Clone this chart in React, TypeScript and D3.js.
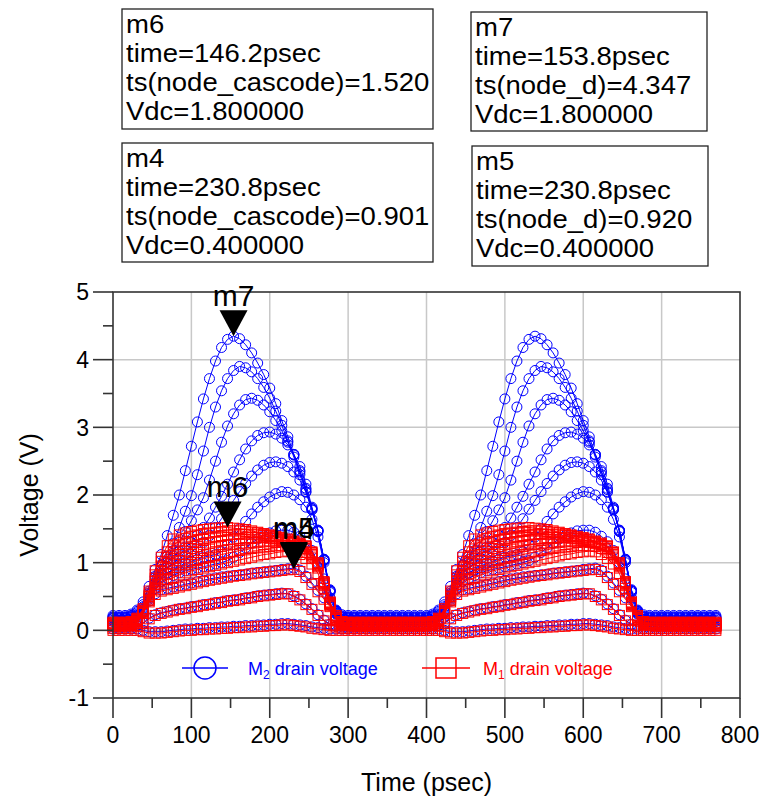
import React from "react";
import * as d3 from "d3";

// ---- sampling grid (ps) ----
const SAMPLE_STEP = 1000 / 130; // 7.692 ps
const SAMPLE_COUNT = 101; // 0 .. 769 ps
const PERIOD_SAMPLES = 50;

const vdcSweep = [1.8, 1.6, 1.4, 1.2, 1.0, 0.8, 0.6, 0.4, 0.2, 0.0];

// ---- M2 drain voltage ts(node_d), one period, per Vdc ----
const nodeD_18 = [
  0.22, 0.22, 0.22, 0.24, 0.3, 0.42, 0.65, 0.9, 1.12, 1.4,
  1.7, 2.0, 2.36, 2.72, 3.08, 3.42, 3.72, 3.98, 4.18, 4.3,
  4.347, 4.31, 4.22, 4.1, 3.95, 3.78, 3.58, 3.35, 3.1, 2.86,
  2.6, 2.34, 2.08, 1.8, 1.48, 1.05, 0.6, 0.3, 0.23, 0.22,
  0.22, 0.22, 0.22, 0.22, 0.22, 0.22, 0.22, 0.22, 0.22, 0.22,
];
const nodeD_16 = [
  0.2, 0.2, 0.2, 0.22, 0.28, 0.38, 0.58, 0.8, 0.96, 1.05,
  1.28, 1.52, 1.76, 1.99, 2.3, 2.65, 3.0, 3.3, 3.54, 3.72,
  3.84, 3.9, 3.88, 3.82, 3.72, 3.59, 3.43, 3.24, 3.03, 2.8,
  2.56, 2.3, 2.05, 1.78, 1.46, 1.03, 0.58, 0.29, 0.21, 0.2,
  0.2, 0.2, 0.2, 0.2, 0.2, 0.2, 0.2, 0.2, 0.2, 0.2,
];
const nodeD_14 = [
  0.19, 0.19, 0.19, 0.21, 0.26, 0.35, 0.55, 0.78, 0.96, 1.09,
  1.18, 1.3, 1.46, 1.62, 1.78, 1.96, 2.22, 2.5, 2.78, 3.02,
  3.2, 3.33, 3.41, 3.43, 3.4, 3.33, 3.23, 3.1, 2.95, 2.78,
  2.59, 2.36, 2.1, 1.8, 1.47, 1.04, 0.58, 0.28, 0.2, 0.19,
  0.19, 0.19, 0.19, 0.19, 0.19, 0.19, 0.19, 0.19, 0.19, 0.19,
];
const nodeD_12 = [
  0.18, 0.18, 0.18, 0.2, 0.24, 0.33, 0.53, 0.75, 0.9, 1.01,
  1.1, 1.17, 1.23, 1.3, 1.4, 1.52, 1.66, 1.82, 1.98, 2.16,
  2.34, 2.52, 2.68, 2.8, 2.88, 2.92, 2.93, 2.9, 2.84, 2.74,
  2.6, 2.42, 2.16, 1.82, 1.48, 1.05, 0.59, 0.28, 0.19, 0.18,
  0.18, 0.18, 0.18, 0.18, 0.18, 0.18, 0.18, 0.18, 0.18, 0.18,
];
const nodeD_10 = [
  0.17, 0.17, 0.17, 0.19, 0.22, 0.31, 0.5, 0.7, 0.84, 0.93,
  1.0, 1.06, 1.11, 1.16, 1.22, 1.3, 1.4, 1.52, 1.65, 1.79,
  1.92, 2.05, 2.17, 2.28, 2.37, 2.44, 2.48, 2.49, 2.47, 2.42,
  2.34, 2.22, 2.04, 1.78, 1.46, 1.03, 0.58, 0.27, 0.18, 0.17,
  0.17, 0.17, 0.17, 0.17, 0.17, 0.17, 0.17, 0.17, 0.17, 0.17,
];
const nodeD_08 = [
  0.15, 0.15, 0.15, 0.17, 0.2, 0.29, 0.48, 0.66, 0.78, 0.85,
  0.9, 0.95, 0.99, 1.02, 1.05, 1.08, 1.1, 1.12, 1.16, 1.26,
  1.38, 1.5, 1.61, 1.72, 1.82, 1.9, 1.97, 2.02, 2.05, 2.04,
  2.0, 1.93, 1.82, 1.64, 1.38, 1.0, 0.56, 0.26, 0.16, 0.15,
  0.15, 0.15, 0.15, 0.15, 0.15, 0.15, 0.15, 0.15, 0.15, 0.15,
];
const nodeD_06 = [
  0.13, 0.13, 0.13, 0.14, 0.17, 0.27, 0.46, 0.62, 0.72, 0.77,
  0.81, 0.85, 0.88, 0.9, 0.92, 0.94, 0.96, 0.98, 1.0, 1.03,
  1.08, 1.15, 1.22, 1.29, 1.35, 1.4, 1.44, 1.47, 1.48, 1.48,
  1.45, 1.39, 1.31, 1.18, 1.0, 0.76, 0.48, 0.25, 0.15, 0.13,
  0.13, 0.13, 0.13, 0.13, 0.13, 0.13, 0.13, 0.13, 0.13, 0.13,
];
const nodeD_04 = [
  0.09, 0.09, 0.09, 0.1, 0.12, 0.26, 0.43, 0.54, 0.6, 0.62,
  0.64, 0.66, 0.68, 0.7, 0.72, 0.74, 0.76, 0.775, 0.79, 0.8,
  0.81, 0.82, 0.83, 0.845, 0.855, 0.865, 0.875, 0.885, 0.9, 0.91,
  0.92, 0.89, 0.8, 0.7, 0.59, 0.48, 0.37, 0.24, 0.14, 0.1,
  0.09, 0.09, 0.09, 0.09, 0.09, 0.09, 0.09, 0.09, 0.09, 0.09,
];
const nodeD_02 = [
  0.05, 0.05, 0.05, 0.05, 0.07, 0.11, 0.18, 0.23, 0.26, 0.28,
  0.3, 0.32, 0.33, 0.35, 0.36, 0.38, 0.39, 0.41, 0.42, 0.44,
  0.45, 0.46, 0.48, 0.49, 0.51, 0.52, 0.53, 0.54, 0.55, 0.54,
  0.51, 0.46, 0.39, 0.32, 0.23, 0.15, 0.09, 0.06, 0.05, 0.05,
  0.05, 0.05, 0.05, 0.05, 0.05, 0.05, 0.05, 0.05, 0.05, 0.05,
];
const nodeD_00 = [
  0.02, 0.02, 0.02, 0.02, 0.02, 0.0, -0.02, -0.02, -0.02, -0.01,
  0.0, 0.01, 0.02, 0.02, 0.03, 0.03, 0.04, 0.04, 0.05, 0.05,
  0.06, 0.06, 0.07, 0.07, 0.08, 0.08, 0.09, 0.09, 0.1, 0.1,
  0.09, 0.08, 0.07, 0.05, 0.04, 0.03, 0.02, 0.02, 0.02, 0.02,
  0.02, 0.02, 0.02, 0.02, 0.02, 0.02, 0.02, 0.02, 0.02, 0.02,
];

// ---- M1 drain voltage ts(node_cascode), one period, per Vdc ----
const nodeC_18 = [
  0.12, 0.12, 0.12, 0.13, 0.18, 0.32, 0.58, 0.88, 1.08, 1.25,
  1.35, 1.41, 1.44, 1.46, 1.48, 1.49, 1.5, 1.51, 1.515, 1.52,
  1.51, 1.5, 1.49, 1.47, 1.45, 1.43, 1.41, 1.39, 1.37, 1.35,
  1.32, 1.29, 1.25, 1.16, 1.0, 0.72, 0.42, 0.2, 0.13, 0.12,
  0.12, 0.12, 0.12, 0.12, 0.12, 0.12, 0.12, 0.12, 0.12, 0.12,
];
const nodeC_16 = [
  0.11, 0.11, 0.11, 0.12, 0.17, 0.3, 0.55, 0.82, 1.02, 1.16,
  1.26, 1.32, 1.36, 1.39, 1.41, 1.43, 1.44, 1.45, 1.46, 1.47,
  1.47, 1.47, 1.46, 1.45, 1.44, 1.42, 1.4, 1.38, 1.36, 1.34,
  1.31, 1.28, 1.24, 1.15, 0.99, 0.71, 0.41, 0.19, 0.12, 0.11,
  0.11, 0.11, 0.11, 0.11, 0.11, 0.11, 0.11, 0.11, 0.11, 0.11,
];
const nodeC_14 = [
  0.1, 0.1, 0.1, 0.11, 0.16, 0.29, 0.52, 0.77, 0.95, 1.08,
  1.16, 1.23, 1.28, 1.31, 1.34, 1.36, 1.38, 1.39, 1.4, 1.41,
  1.42, 1.42, 1.42, 1.42, 1.41, 1.4, 1.38, 1.36, 1.34, 1.32,
  1.3, 1.27, 1.23, 1.14, 0.97, 0.7, 0.4, 0.18, 0.11, 0.1,
  0.1, 0.1, 0.1, 0.1, 0.1, 0.1, 0.1, 0.1, 0.1, 0.1,
];
const nodeC_12 = [
  0.09, 0.09, 0.09, 0.1, 0.15, 0.28, 0.5, 0.72, 0.88, 0.99,
  1.06, 1.12, 1.17, 1.21, 1.24, 1.27, 1.29, 1.31, 1.33, 1.34,
  1.35, 1.36, 1.37, 1.37, 1.37, 1.37, 1.36, 1.35, 1.33, 1.31,
  1.29, 1.26, 1.21, 1.12, 0.96, 0.69, 0.4, 0.17, 0.1, 0.09,
  0.09, 0.09, 0.09, 0.09, 0.09, 0.09, 0.09, 0.09, 0.09, 0.09,
];
const nodeC_10 = [
  0.08, 0.08, 0.08, 0.09, 0.14, 0.27, 0.48, 0.68, 0.82, 0.91,
  0.98, 1.03, 1.08, 1.12, 1.15, 1.18, 1.2, 1.22, 1.24, 1.26,
  1.27, 1.28, 1.29, 1.3, 1.31, 1.32, 1.32, 1.32, 1.31, 1.3,
  1.28, 1.25, 1.19, 1.1, 0.94, 0.68, 0.39, 0.16, 0.09, 0.08,
  0.08, 0.08, 0.08, 0.08, 0.08, 0.08, 0.08, 0.08, 0.08, 0.08,
];
const nodeC_08 = [
  0.07, 0.07, 0.07, 0.08, 0.13, 0.26, 0.46, 0.64, 0.76, 0.83,
  0.88, 0.93, 0.97, 1.0, 1.03, 1.06, 1.08, 1.1, 1.12, 1.14,
  1.16, 1.18, 1.19, 1.21, 1.22, 1.23, 1.24, 1.25, 1.25, 1.25,
  1.24, 1.21, 1.15, 1.07, 0.92, 0.66, 0.38, 0.16, 0.08, 0.07,
  0.07, 0.07, 0.07, 0.07, 0.07, 0.07, 0.07, 0.07, 0.07, 0.07,
];
const nodeC_06 = [
  0.07, 0.07, 0.07, 0.08, 0.12, 0.25, 0.44, 0.6, 0.7, 0.75,
  0.78, 0.82, 0.85, 0.88, 0.9, 0.92, 0.94, 0.96, 0.98, 1.0,
  1.02, 1.04, 1.06, 1.08, 1.1, 1.12, 1.13, 1.15, 1.16, 1.17,
  1.16, 1.12, 1.06, 0.98, 0.84, 0.62, 0.37, 0.16, 0.08, 0.07,
  0.07, 0.07, 0.07, 0.07, 0.07, 0.07, 0.07, 0.07, 0.07, 0.07,
];
const nodeC_04 = [
  0.06, 0.06, 0.06, 0.07, 0.1, 0.25, 0.42, 0.53, 0.58, 0.6,
  0.62, 0.64, 0.66, 0.68, 0.7, 0.72, 0.74, 0.755, 0.77, 0.785,
  0.8, 0.81, 0.82, 0.835, 0.845, 0.855, 0.865, 0.875, 0.885, 0.895,
  0.901, 0.87, 0.78, 0.68, 0.57, 0.46, 0.35, 0.22, 0.12, 0.07,
  0.06, 0.06, 0.06, 0.06, 0.06, 0.06, 0.06, 0.06, 0.06, 0.06,
];
const nodeC_02 = [
  0.03, 0.03, 0.03, 0.03, 0.06, 0.1, 0.17, 0.22, 0.25, 0.27,
  0.29, 0.31, 0.32, 0.34, 0.35, 0.37, 0.38, 0.4, 0.41, 0.43,
  0.44, 0.45, 0.47, 0.48, 0.5, 0.51, 0.52, 0.53, 0.54, 0.54,
  0.5, 0.45, 0.38, 0.31, 0.22, 0.14, 0.08, 0.05, 0.03, 0.03,
  0.03, 0.03, 0.03, 0.03, 0.03, 0.03, 0.03, 0.03, 0.03, 0.03,
];
const nodeC_00 = [
  0.0, 0.0, 0.0, 0.0, 0.0, -0.02, -0.04, -0.04, -0.04, -0.03,
  -0.02, -0.01, 0.0, 0.0, 0.01, 0.01, 0.02, 0.02, 0.03, 0.03,
  0.04, 0.04, 0.05, 0.05, 0.06, 0.06, 0.07, 0.07, 0.08, 0.08,
  0.07, 0.06, 0.05, 0.03, 0.02, 0.01, 0.0, 0.0, 0.0, 0.0,
  0.0, 0.0, 0.0, 0.0, 0.0, 0.0, 0.0, 0.0, 0.0, 0.0,
];

const nodeDSeries = [nodeD_18, nodeD_16, nodeD_14, nodeD_12, nodeD_10, nodeD_08, nodeD_06, nodeD_04, nodeD_02, nodeD_00];
const nodeCSeries = [nodeC_18, nodeC_16, nodeC_14, nodeC_12, nodeC_10, nodeC_08, nodeC_06, nodeC_04, nodeC_02, nodeC_00];

// ---- axes ----
const xTicks = [0, 100, 200, 300, 400, 500, 600, 700, 800];
const xMinorTicks = [50, 150, 250, 350, 450, 550, 650, 750];
const yTicks = [-1, 0, 1, 2, 3, 4, 5];
const yMinorTicks = [-0.5, 0.5, 1.5, 2.5, 3.5, 4.5];

// ---- markers (m5 drawn before m4, so m4 sits on top) ----
const markerNames = ["m7", "m6", "m5", "m4"];
const markerTimes = [153.8, 146.2, 230.8, 230.8];
const markerValues = [4.347, 1.52, 0.92, 0.901];

// ---- readout boxes ----
const boxLines = [
  ["m6", "time=146.2psec", "ts(node_cascode)=1.520", "Vdc=1.800000"],
  ["m7", "time=153.8psec", "ts(node_d)=4.347", "Vdc=1.800000"],
  ["m4", "time=230.8psec", "ts(node_cascode)=0.901", "Vdc=0.400000"],
  ["m5", "time=230.8psec", "ts(node_d)=0.920", "Vdc=0.400000"],
];
const boxRects = [
  { x: 122, y: 9, w: 311, h: 120 },
  { x: 471, y: 12, w: 236, h: 119 },
  { x: 122, y: 143, w: 311, h: 119 },
  { x: 472, y: 146, w: 236, h: 120 },
];

const FONT = "Arial, 'Liberation Sans', sans-serif";
const BLUE = "#0000ff";
const RED = "#ff0000";

function toPoints(period: number[]) {
  return d3.range(SAMPLE_COUNT).map((k) => ({ t: k * SAMPLE_STEP, v: period[k % PERIOD_SAMPLES] }));
}

export default function App() {
  const x = d3.scaleLinear().domain([0, 800]).range([113, 740]);
  const y = d3.scaleLinear().domain([-1, 5]).range([698, 292]);
  const line = d3
    .line<{ t: number; v: number }>()
    .x((d) => x(d.t))
    .y((d) => y(d.v));

  const blue = nodeDSeries.map(toPoints);
  const red = nodeCSeries.map(toPoints);
  const [x0, x1] = x.range();
  const [yb, yt] = y.range();

  return (
    <svg
      width={763}
      height={800}
      style={{ position: "absolute", left: 0, top: 0, background: "#fff" }}
      fontFamily={FONT}
    >
      <rect x={0} y={0} width={763} height={800} fill="#fff" />
      {/* readout boxes */}
      {boxRects.map((b, i) => (
        <g key={"box" + i}>
          <rect x={b.x} y={b.y} width={b.w} height={b.h} fill="#fff" stroke="#222" strokeWidth={1.3} />
          <g transform={`translate(${b.x + 4},${b.y}) scale(1.1,1)`}>
            {boxLines[i].map((s, j) => (
              <text key={j} x={0} y={24 + j * 29} fontSize={25} fill="#000">
                {s}
              </text>
            ))}
          </g>
        </g>
      ))}

      {/* grid */}
      {xTicks.slice(1, -1).map((t) => (
        <line key={"gx" + t} x1={x(t)} x2={x(t)} y1={yt} y2={yb} stroke="#c8c8c8" strokeWidth={1.5} />
      ))}
      {yTicks.slice(1, -1).map((t) => (
        <line key={"gy" + t} x1={x0} x2={x1} y1={y(t)} y2={y(t)} stroke="#c8c8c8" strokeWidth={1.5} />
      ))}

      {/* blue series */}
      {blue.map((pts, i) => (
        <g key={"b" + i}>
          <path d={line(pts) || ""} fill="none" stroke={BLUE} strokeWidth={1} />
          {pts.map((p, k) => (
            <circle key={k} cx={x(p.t)} cy={y(p.v)} r={5} fill="none" stroke={BLUE} strokeWidth={1} />
          ))}
        </g>
      ))}
      {/* red series */}
      {red.map((pts, i) => (
        <g key={"r" + i}>
          <path d={line(pts) || ""} fill="none" stroke={RED} strokeWidth={1} />
          {pts.map((p, k) => (
            <rect key={k} x={x(p.t) - 5} y={y(p.v) - 5} width={10} height={10} fill="none" stroke={RED} strokeWidth={1} />
          ))}
        </g>
      ))}

      {/* frame */}
      <rect x={x0} y={yt} width={x1 - x0} height={yb - yt} fill="none" stroke="#333" strokeWidth={1.6} />
      {yTicks.map((t) => (
        <g key={"yt" + t}>
          <line x1={x0 - 20} x2={x0} y1={y(t)} y2={y(t)} stroke="#333" strokeWidth={1.6} />
          <text x={x0 - 24} y={y(t)} dy="0.36em" textAnchor="end" fontSize={23} fill="#000">
            {t}
          </text>
        </g>
      ))}
      {yMinorTicks.map((t) => (
        <line key={"ym" + t} x1={x0 - 10} x2={x0} y1={y(t)} y2={y(t)} stroke="#333" strokeWidth={1.6} />
      ))}
      {xTicks.map((t) => (
        <g key={"xt" + t}>
          <line x1={x(t)} x2={x(t)} y1={yb} y2={yb + 20} stroke="#333" strokeWidth={1.6} />
          <text x={x(t)} y={743} textAnchor="middle" fontSize={23} fill="#000">
            {t}
          </text>
        </g>
      ))}
      {xMinorTicks.map((t) => (
        <line key={"xm" + t} x1={x(t)} x2={x(t)} y1={yb} y2={yb + 10} stroke="#333" strokeWidth={1.6} />
      ))}

      {/* axis titles */}
      <text x={(x0 + x1) / 2} y={791} textAnchor="middle" fontSize={25} fill="#000">
        Time (psec)
      </text>
      <text transform={`translate(38,${(yt + yb) / 2}) rotate(-90)`} textAnchor="middle" fontSize={25} fill="#000">
        Voltage (V)
      </text>

      {/* markers */}
      {markerNames.map((m, i) => {
        const mx = x(markerTimes[i]);
        const my = y(markerValues[i]);
        return (
          <g key={m}>
            <path d={`M${mx - 14},${my - 26} L${mx + 14},${my - 26} L${mx},${my} Z`} fill="#000" />
            <text x={mx} y={my - 30} textAnchor="middle" fontSize={30} fill="#000">
              {m}
            </text>
          </g>
        );
      })}

      {/* legend */}
      <g>
        <line x1={182} x2={228} y1={668} y2={668} stroke={BLUE} strokeWidth={1.5} />
        <circle cx={205} cy={668} r={11} fill="none" stroke={BLUE} strokeWidth={1.5} />
        <text x={248} y={675} fontSize={18} fill={BLUE}>
          M<tspan fontSize={12} dy={4}>2</tspan>
          <tspan dy={-4}> drain voltage</tspan>
        </text>
        <line x1={422} x2={470} y1={668} y2={668} stroke={RED} strokeWidth={1.5} />
        <rect x={436} y={658} width={20} height={20} fill="none" stroke={RED} strokeWidth={1.5} />
        <text x={483} y={675} fontSize={18} fill={RED}>
          M<tspan fontSize={12} dy={4}>1</tspan>
          <tspan dy={-4}> drain voltage</tspan>
        </text>
      </g>
    </svg>
  );
}
